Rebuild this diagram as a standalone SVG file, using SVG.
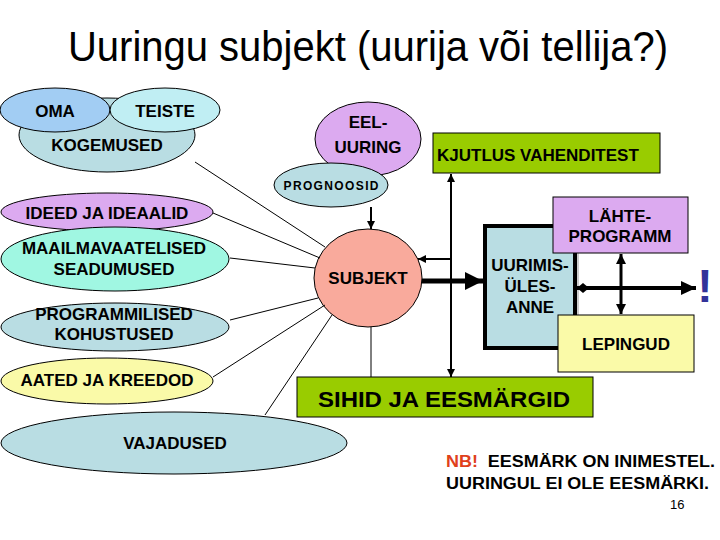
<svg xmlns="http://www.w3.org/2000/svg" width="720" height="540" viewBox="0 0 720 540">
<style>
.n{stroke:#000;stroke-width:1}
.t{font-family:"Liberation Sans",Arial,sans-serif;font-weight:bold;font-size:17px;fill:#000;text-anchor:middle}
.ts{font-family:"Liberation Sans",Arial,sans-serif;font-weight:bold;font-size:17px;fill:#000}
.lb{fill:#b9dde3}
.pu{fill:#dcaaf0}
.gr{fill:#99cc00}
.ye{fill:#fafaa8}
.c{stroke:#000;fill:none}
</style>
<defs>
<marker id="as" markerUnits="userSpaceOnUse" markerWidth="9" markerHeight="8" refX="8" refY="4" orient="auto-start-reverse"><path d="M0,0 L8,4 L0,8 z" fill="#000"/></marker>
<marker id="am" markerUnits="userSpaceOnUse" markerWidth="11" markerHeight="10" refX="10" refY="5" orient="auto-start-reverse"><path d="M0,0 L10,5 L0,10 z" fill="#000"/></marker>
<marker id="al" markerUnits="userSpaceOnUse" markerWidth="19" markerHeight="18" refX="18" refY="9" orient="auto"><path d="M0,0 L18,9 L0,18 z" fill="#000"/></marker>
<marker id="ar" markerUnits="userSpaceOnUse" markerWidth="16" markerHeight="14" refX="15" refY="7" orient="auto"><path d="M0,0 L15,7 L0,14 z" fill="#000"/></marker>
<marker id="dm" markerUnits="userSpaceOnUse" markerWidth="14" markerHeight="12" refX="1" refY="6" orient="auto"><path d="M1,6 L7,1 L13,6 L7,11 z" fill="#000"/></marker>
</defs>
<rect width="720" height="540" fill="#fff"/>
<text x="368" y="61" font-family="'Liberation Sans',Arial,sans-serif" font-size="42" text-anchor="middle" textLength="600" lengthAdjust="spacingAndGlyphs">Uuringu subjekt (uurija või tellija?)</text>

<g id="kogemused"><ellipse class="n lb" cx="107" cy="135" rx="88" ry="37"/><text class="t" x="107" y="151">KOGEMUSED</text></g>
<g id="oma"><ellipse class="n" fill="#a2cdf3" cx="55" cy="110" rx="55" ry="22"/><text class="t" x="55" y="117">OMA</text></g>
<g id="teiste"><ellipse class="n" fill="#c0eef3" cx="165" cy="110" rx="55" ry="22"/><text class="t" x="165" y="117">TEISTE</text></g>

<g id="eeluuring"><ellipse class="n pu" cx="368" cy="139" rx="53" ry="37"/><text class="t" x="368" y="128">EEL-</text><text class="t" x="368" y="153">UURING</text></g>
<g id="prognoosid"><ellipse class="n lb" cx="331" cy="185" rx="57" ry="22"/><text class="t" x="331" y="190" font-size="12" textLength="95" lengthAdjust="spacing" style="font-size:12px">PROGNOOSID</text></g>
<g id="kjutlus"><rect class="n gr" x="433" y="133" width="227" height="40"/><text class="ts" x="437" y="161">KJUTLUS VAHENDITEST</text></g>

<g id="ideed"><ellipse class="n pu" cx="107" cy="212" rx="106" ry="19"/><text class="t" x="107" y="219">IDEED JA IDEAALID</text></g>
<g id="maailm"><ellipse class="n" fill="#a0f7e2" cx="115" cy="259" rx="114" ry="32"/><text class="t" x="114" y="254">MAAILMAVAATELISED</text><text class="t" x="114" y="275">SEADUMUSED</text></g>
<g id="programmilised"><ellipse class="n lb" cx="115" cy="327" rx="114" ry="24"/><text class="t" x="114" y="320">PROGRAMMILISED</text><text class="t" x="114" y="340">KOHUSTUSED</text></g>
<g id="aated"><ellipse class="n ye" cx="107" cy="381" rx="106" ry="23"/><text class="t" x="107" y="386">AATED JA KREEDOD</text></g>
<g id="vajadused"><ellipse class="n lb" cx="174" cy="443" rx="173" ry="31"/><text class="t" x="175" y="449">VAJADUSED</text></g>

<g id="subjekt"><ellipse class="n" fill="#f9aa9c" cx="368" cy="278" rx="54" ry="49"/><text class="t" x="368" y="284">SUBJEKT</text></g>
<g id="uurimis"><rect x="485" y="226" width="90" height="122" fill="#b9dde3" stroke="#000" stroke-width="4"/><line x1="578" y1="228" x2="578" y2="350" stroke="#999" stroke-width="1"/><text class="t" x="530" y="271">UURIMIS-</text><text class="t" x="530" y="292">ÜLES-</text><text class="t" x="530" y="313">ANNE</text></g>
<g id="lahte"><rect class="n pu" x="553" y="197" width="135" height="56"/><text class="t" x="620" y="222">LÄHTE-</text><text class="t" x="620" y="242">PROGRAMM</text></g>
<g id="lepingud"><rect class="n ye" x="558" y="315" width="136" height="57"/><text class="t" x="626" y="350">LEPINGUD</text></g>
<g id="sihid"><rect class="n gr" x="297" y="377" width="296" height="40"/><text class="ts" x="318" y="407" style="font-size:22px" textLength="252" lengthAdjust="spacingAndGlyphs">SIHID JA EESMÄRGID</text></g>

<g id="connectors">
<line class="c" x1="195" y1="162" x2="325" y2="247"/>
<line class="c" x1="213" y1="213" x2="320" y2="258"/>
<line class="c" x1="230" y1="258" x2="315" y2="268"/>
<line class="c" x1="230" y1="320" x2="318" y2="298"/>
<line class="c" x1="213" y1="377" x2="325" y2="305"/>
<line class="c" x1="265" y1="415" x2="332" y2="315"/>
<line class="c" x1="371" y1="207" x2="371" y2="229" stroke-width="2" marker-end="url(#as)"/>
<line class="c" x1="371" y1="327" x2="371" y2="377"/>
<line class="c" x1="451" y1="174" x2="451" y2="377" stroke-width="2" marker-start="url(#as)" marker-end="url(#as)"/>
<line class="c" x1="451" y1="259" x2="418" y2="259" stroke-width="2" marker-end="url(#as)"/>
<line class="c" x1="422" y1="281" x2="483" y2="281" stroke-width="5" marker-end="url(#al)"/>
<line class="c" x1="577" y1="288" x2="696" y2="288" stroke-width="4" marker-start="url(#dm)" marker-end="url(#ar)"/>
<line class="c" x1="621" y1="254" x2="621" y2="314" stroke-width="3" marker-start="url(#am)" marker-end="url(#am)"/>
</g>

<text x="705" y="302" font-family="'Liberation Sans',Arial,sans-serif" font-weight="bold" font-size="46" fill="#333399" text-anchor="middle">!</text>
<text x="446" y="467" font-family="'Liberation Sans',Arial,sans-serif" font-weight="bold" font-size="16" textLength="269" lengthAdjust="spacingAndGlyphs"><tspan fill="#e0401c">NB!</tspan><tspan fill="#000" xml:space="preserve">  EESMÄRK ON INIMESTEL.</tspan></text>
<text x="446" y="489" font-family="'Liberation Sans',Arial,sans-serif" font-weight="bold" font-size="16" textLength="263" lengthAdjust="spacingAndGlyphs">UURINGUL EI OLE EESMÄRKI.</text>
<text x="670" y="509" font-family="'Liberation Sans',Arial,sans-serif" font-size="13">16</text>
</svg>
